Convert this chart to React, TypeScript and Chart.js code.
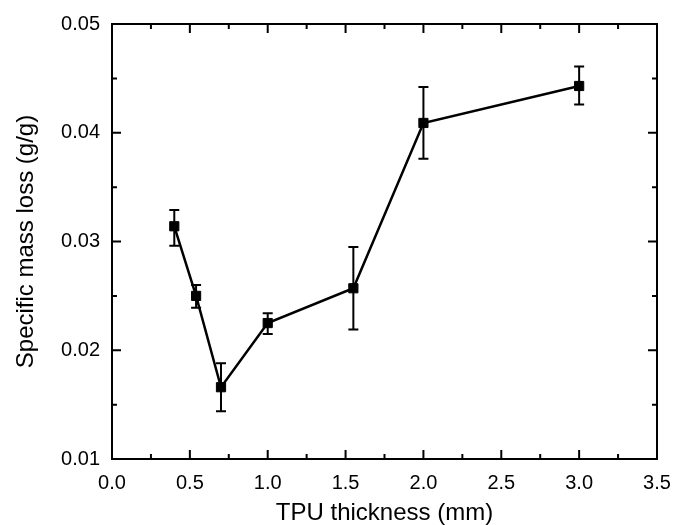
import { useEffect, useRef } from 'react';
import { Chart, registerables } from 'chart.js';

Chart.register(...registerables);

// TPU thickness (mm)
const thickness = [0.4, 0.54, 0.7, 1.0, 1.55, 2.0, 3.0];
// Specific mass loss (g/g)
const massLoss = [0.0314, 0.025, 0.0166, 0.0225, 0.0257, 0.0409, 0.0443];
// Error bar upper / lower ends
const errUpper = [0.0329, 0.026, 0.0188, 0.0234, 0.0295, 0.0442, 0.0461];
const errLower = [0.0296, 0.0239, 0.0144, 0.0215, 0.0219, 0.0376, 0.0426];

const xTicks = [0, 0.5, 1.0, 1.5, 2.0, 2.5, 3.0, 3.5];
const yTicks = [0.01, 0.02, 0.03, 0.04, 0.05];
const xMinorTicks = [0.25, 0.75, 1.25, 1.75, 2.25, 2.75, 3.25];
const yMinorTicks = [0.015, 0.025, 0.035, 0.045];

const FONT = '"Liberation Sans", Arial, Helvetica, sans-serif';

const errorBarPlugin = {
  id: 'errorBars',
  beforeDatasetsDraw(chart: any) {
    const { ctx, scales } = chart;
    const xs = scales.x;
    const ys = scales.y;
    ctx.save();
    ctx.strokeStyle = '#000';
    ctx.lineWidth = 2;
    for (let i = 0; i < thickness.length; i++) {
      const x = xs.getPixelForValue(thickness[i]);
      const yt = ys.getPixelForValue(errUpper[i]);
      const yb = ys.getPixelForValue(errLower[i]);
      ctx.beginPath();
      ctx.moveTo(x, yt);
      ctx.lineTo(x, yb);
      ctx.moveTo(x - 5, yt);
      ctx.lineTo(x + 5, yt);
      ctx.moveTo(x - 5, yb);
      ctx.lineTo(x + 5, yb);
      ctx.stroke();
    }
    ctx.restore();
  },
};

const framePlugin = {
  id: 'frameTicks',
  afterDraw(chart: any) {
    const { ctx, chartArea, scales } = chart;
    const { left, right, top, bottom } = chartArea;
    const xs = scales.x;
    const ys = scales.y;
    ctx.save();
    ctx.strokeStyle = '#000';
    ctx.lineWidth = 2;
    ctx.beginPath();
    const drawX = (vals: number[], len: number) => {
      vals.forEach((v) => {
        const x = xs.getPixelForValue(v);
        ctx.moveTo(x, bottom);
        ctx.lineTo(x, bottom - len);
        ctx.moveTo(x, top);
        ctx.lineTo(x, top + len);
      });
    };
    const drawY = (vals: number[], len: number) => {
      vals.forEach((v) => {
        const y = ys.getPixelForValue(v);
        ctx.moveTo(left, y);
        ctx.lineTo(left + len, y);
        ctx.moveTo(right, y);
        ctx.lineTo(right - len, y);
      });
    };
    drawX(xTicks, 9);
    drawX(xMinorTicks, 5);
    drawY(yTicks, 9);
    drawY(yMinorTicks, 5);
    ctx.stroke();
    ctx.beginPath();
    ctx.rect(left, top, right - left, bottom - top);
    ctx.stroke();
    ctx.restore();
  },
};

export default function App() {
  const canvasRef = useRef<HTMLCanvasElement | null>(null);

  useEffect(() => {
    document.body.style.margin = '0';
    const canvas = canvasRef.current;
    if (!canvas) return;
    const chart = new Chart(canvas, {
      type: 'line',
      data: {
        datasets: [
          {
            data: thickness.map((t, i) => ({ x: t, y: massLoss[i] })),
            borderColor: '#000',
            borderWidth: 2.5,
            pointStyle: 'rect',
            pointRadius: 6.5,
            pointBackgroundColor: '#000',
            pointBorderColor: '#000',
            pointBorderWidth: 1,
            tension: 0,
            fill: false,
          },
        ],
      },
      options: {
        animation: false,
        responsive: true,
        maintainAspectRatio: false,
        layout: { padding: { top: 21, right: 26, left: 0, bottom: 0 } },
        plugins: {
          legend: { display: false },
          tooltip: { enabled: false },
        },
        scales: {
          x: {
            type: 'linear',
            min: 0,
            max: 3.5,
            grid: { display: false, drawTicks: false },
            border: { display: false },
            afterFit: (scale: any) => {
              scale.height = 66;
            },
            afterBuildTicks: (scale: any) => {
              scale.ticks = xTicks.map((v) => ({ value: v }));
            },
            ticks: {
              padding: 12,
              color: '#000',
              font: { family: FONT, size: 20 },
              callback: (v: any) => Number(v).toFixed(1),
            },
            title: {
              display: true,
              text: 'TPU thickness (mm)',
              color: '#000',
              font: { family: FONT, size: 24, lineHeight: 1 },
              padding: { top: 0, bottom: 0 },
            },
          },
          y: {
            type: 'linear',
            min: 0.01,
            max: 0.05,
            grid: { display: false, drawTicks: false },
            border: { display: false },
            afterFit: (scale: any) => {
              scale.width = 112;
            },
            afterBuildTicks: (scale: any) => {
              scale.ticks = yTicks.map((v) => ({ value: v }));
            },
            ticks: {
              padding: 12,
              color: '#000',
              font: { family: FONT, size: 20 },
              callback: (v: any) => Number(v).toFixed(2),
            },
            title: {
              display: true,
              text: 'Specific mass loss (g/g)',
              color: '#000',
              font: { family: FONT, size: 24 },
              padding: { top: 12, bottom: 0 },
            },
          },
        },
      },
      plugins: [errorBarPlugin, framePlugin],
    });
    return () => chart.destroy();
  }, []);

  return (
    <div style={{ position: 'fixed', left: 0, top: 0, width: 683, height: 525, background: '#fff' }}>
      <canvas ref={canvasRef} />
    </div>
  );
}
